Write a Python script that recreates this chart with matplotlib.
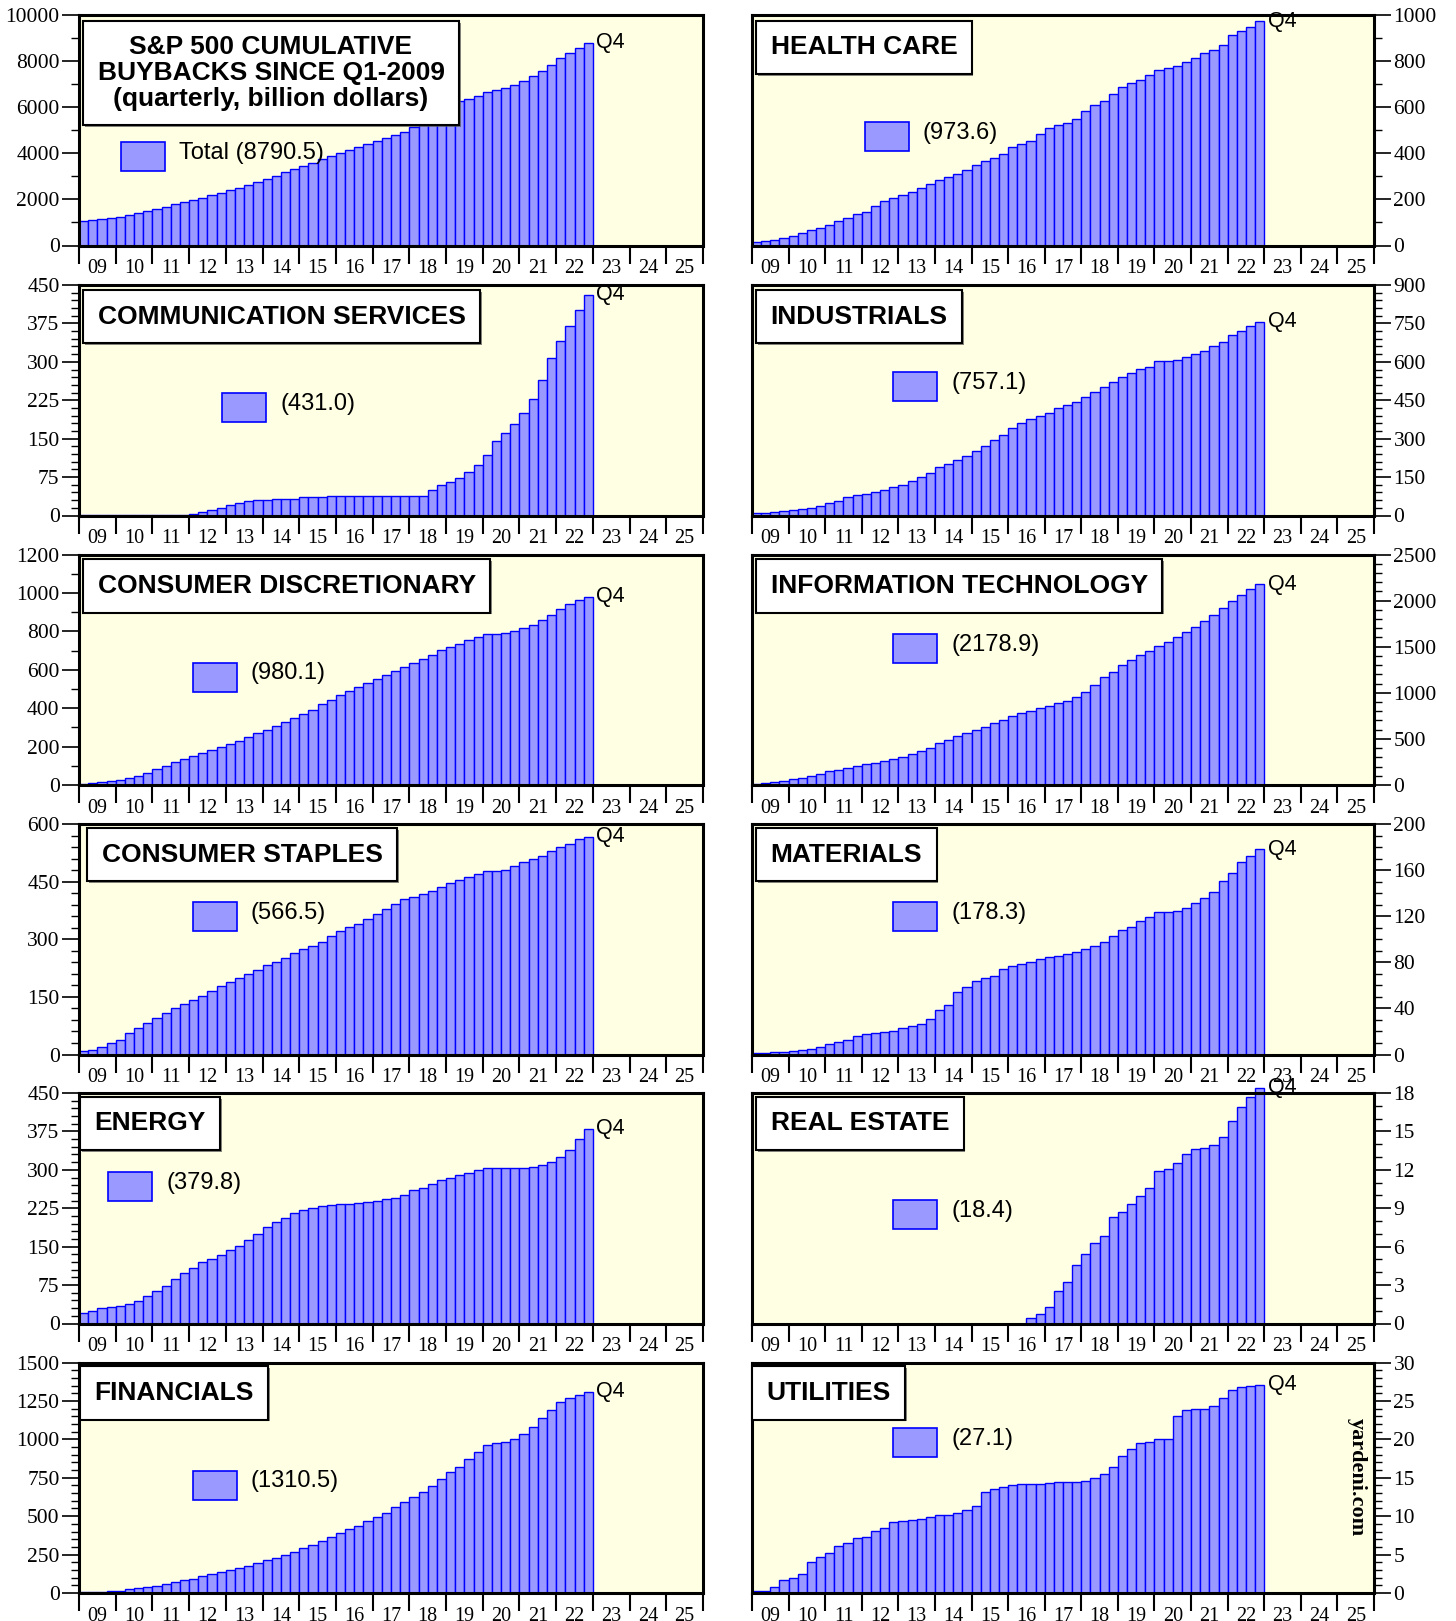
import matplotlib
matplotlib.use('Agg')
import matplotlib.pyplot as plt
import matplotlib.patheffects as pe
from matplotlib.patches import Rectangle
from matplotlib.ticker import MultipleLocator, FixedLocator, FixedFormatter, NullFormatter

# quarterly cumulative buybacks since Q1-2009, billion dollars (Q1-2009 .. Q4-2022)
years = list(range(2009, 2023))
year_labels = ['09', '10', '11', '12', '13', '14', '15', '16', '17', '18', '19', '20', '21', '22', '23', '24', '25']

total = [1080, 1100, 1140, 1180, 1230, 1310, 1400, 1480, 1570, 1680, 1790, 1880,
         1970, 2070, 2180, 2280, 2390, 2500, 2630, 2750, 2900, 3030, 3170, 3300,
         3460, 3600, 3740, 3880, 4020, 4150, 4280, 4420, 4550, 4680, 4800, 4940,
         5150, 5400, 5650, 5900, 6100, 6250, 6350, 6470, 6650, 6740, 6830, 6960,
         7150, 7350, 7580, 7850, 8130, 8370, 8580, 8790.5]
health_care = [14, 20, 26, 33, 43, 56, 68, 78, 90, 105, 120, 136,
               147, 170, 192, 204, 221, 234, 251, 267, 283, 296, 312, 327,
               348, 366, 379, 396, 428, 442, 455, 483, 511, 523, 533, 549,
               584, 610, 626, 656, 686, 704, 718, 740, 762, 772, 779, 795,
               814, 834, 850, 871, 912, 929, 949, 973.6]
comm_services = [1.5, 1.5, 1.5, 1.5, 1.5, 1.5, 1.5, 1.5, 1.5, 1.5, 1.5, 1.5,
                 3, 6, 11, 15, 21, 25, 28, 30, 31, 32, 32, 32,
                 36.5, 37, 37, 37.5, 38, 38, 38, 38, 38.5, 39, 39, 39,
                 39, 39, 50, 59, 66, 73, 84, 98, 118, 145, 162, 179,
                 200, 228, 264, 307, 341, 370, 401, 431.0]
industrials = [8, 10, 14, 17, 21, 25, 31, 39, 47, 56, 72, 81,
               85, 91, 101, 112, 121, 136, 149, 167, 188, 201, 217, 234,
               253, 272, 293, 313, 340, 362, 375, 389, 402, 418, 431, 444,
               461, 483, 500, 522, 542, 558, 572, 581, 603, 605, 609, 617,
               630, 644, 662, 679, 704, 720, 739, 757.1]
cons_discretionary = [7, 10, 16, 22, 28, 36, 49, 63, 82, 99, 120, 134,
                      151, 168, 184, 198, 215, 229, 250, 269, 286, 307, 326, 349,
                      370, 392, 420, 443, 469, 490, 512, 531, 550, 571, 595, 615,
                      635, 656, 677, 703, 720, 734, 755, 771, 786, 788, 792, 802,
                      816, 835, 858, 887, 915, 943, 963, 980.1]
info_tech = [11, 18, 29, 44, 62, 80, 102, 123, 149, 167, 189, 207,
             225, 243, 265, 283, 301, 341, 374, 406, 457, 486, 530, 559,
             599, 631, 675, 708, 747, 776, 806, 831, 860, 885, 914, 951,
             1012, 1089, 1172, 1230, 1299, 1353, 1408, 1455, 1513, 1553, 1600, 1658,
             1713, 1778, 1843, 1916, 1992, 2061, 2123, 2178.9]
cons_staples = [8, 12, 19, 29, 39, 55, 68, 82, 95, 107, 121, 131,
                143, 153, 166, 178, 188, 199, 210, 221, 233, 242, 252, 263,
                275, 283, 292, 309, 321, 332, 340, 352, 366, 378, 392, 404,
                410, 417, 426, 436, 447, 454, 462, 471, 477, 478, 481, 491,
                501, 509, 518, 530, 539, 549, 561, 566.5]
materials = [1.5, 1.7, 2.0, 2.6, 3.2, 4.1, 4.9, 6.7, 8.7, 10.5, 12.8, 15.7,
             17.4, 18.6, 19.2, 20.3, 23, 25, 26.7, 30.5, 39, 43, 53.8, 59,
             63.4, 66, 68, 74.1, 76.7, 78.2, 80.2, 82.6, 84.6, 85.5, 86.9, 89,
             91.3, 94.2, 97.4, 103, 108, 110.5, 115.7, 118.9, 123.5, 123.8, 124.4, 127,
             131.4, 135.8, 141.3, 150.6, 157.8, 166.6, 172, 178.3]
energy = [21, 25, 30, 32, 35, 38, 44, 53, 63, 74, 87, 99,
          108, 121, 126, 134, 143, 151, 163, 175, 188, 198, 206, 216,
          222, 225, 230, 232, 233, 234, 236, 237.5, 239, 243, 245, 250.5,
          260, 264, 272, 280, 285, 290, 294, 299, 303, 303, 303, 303,
          304, 306, 308.5, 316, 325, 339, 361, 379.8]
real_estate = [0, 0, 0, 0, 0, 0, 0, 0, 0, 0, 0, 0,
               0, 0, 0, 0, 0, 0, 0, 0, 0, 0, 0, 0,
               0, 0, 0, 0, 0, 0, 0.44, 0.73, 1.3, 2.5, 3.27, 4.6,
               5.45, 6.3, 6.83, 8.3, 8.74, 9.3, 9.97, 10.6, 11.9, 12.1, 12.5, 13.2,
               13.65, 13.7, 13.95, 14.6, 15.8, 16.9, 17.7, 18.4]
financials = [4, 6.5, 8.7, 11, 15, 24, 30, 37, 46, 59, 74, 82,
              91, 108, 126, 135, 148, 161, 174, 193, 213, 228, 247, 267,
              291, 310, 339, 362, 389, 415, 438, 469, 495, 523, 558, 590,
              625, 656, 697, 740, 786, 823, 870, 918, 966, 975, 985, 1001,
              1035, 1079, 1137, 1192, 1246, 1268, 1287, 1310.5]
utilities = [0.2, 0.2, 0.8, 1.7, 1.9, 2.5, 4.0, 4.7, 5.2, 6.1, 6.5, 7.1,
             7.25, 8.1, 8.4, 9.25, 9.4, 9.5, 9.65, 9.95, 10.1, 10.2, 10.4, 10.85,
             11.3, 13.15, 13.5, 13.75, 14.1, 14.15, 14.15, 14.2, 14.35, 14.4, 14.4, 14.4,
             14.55, 15.0, 15.5, 16.4, 17.85, 18.7, 19.5, 19.7, 20.0, 20.1, 23.0, 23.85,
             23.9, 23.9, 24.3, 25.35, 26.4, 26.85, 26.95, 27.1]

# (title, legend prefix, values, ymax, major, minor)
panels = [
    ('S&P 500 CUMULATIVE\nBUYBACKS SINCE Q1-2009\n(quarterly, billion dollars)', 'Total ', total, 10000, 2000, 1000),
    ('HEALTH CARE', '', health_care, 1000, 200, 100),
    ('COMMUNICATION SERVICES', '', comm_services, 450, 75, 15),
    ('INDUSTRIALS', '', industrials, 900, 150, 30),
    ('CONSUMER DISCRETIONARY', '', cons_discretionary, 1200, 200, 100),
    ('INFORMATION TECHNOLOGY', '', info_tech, 2500, 500, 100),
    ('CONSUMER STAPLES', '', cons_staples, 600, 150, 30),
    ('MATERIALS', '', materials, 200, 40, 10),
    ('ENERGY', '', energy, 450, 75, 15),
    ('REAL ESTATE', '', real_estate, 18, 3, 1),
    ('FINANCIALS', '', financials, 1500, 250, 50),
    ('UTILITIES', '', utilities, 30, 5, 1),
]

# layout in pixels: title box offset (dx, dy) and legend swatch offset from the panel's top-left
box_offsets = [(4, 6), (4, 6), (4, 5), (4, 5), (4, 5), (4, 5), (8, 4), (4, 4), (1, 4), (4, 4), (1, 4), (0, 4)]
legend_offsets = [(42, 127), (113, 107), (143, 108), (141, 87), (114, 108), (141, 79),
                  (114, 78), (141, 78), (29, 79), (141, 107), (114, 108), (141, 65)]

W, H = 1456, 1621
COL_LEFT = [79, 752]
COL_WIDTH = [624, 622]
ROW_TOP = [15, 285, 554.5, 824, 1093, 1362.5]
PANEL_H = 230.5

BG = '#FFFFE3'
FACE = '#9999FF'
EDGE = '#0000FF'
SANS = 'Liberation Sans'
SERIF = 'Liberation Serif'

plt.rcParams['font.family'] = SERIF


def pt(px):
    return px * 0.72


def draw_panel(ax, idx, title, prefix, values, ymax, major, minor, side):
    w = COL_WIDTH[0 if side == 'left' else 1]
    ax.set_facecolor(BG)
    xs = [y + q * 0.25 for y in years for q in range(4)]
    ax.bar(xs, values, width=0.25, align='edge', color=FACE, edgecolor=EDGE,
           linewidth=1.0, clip_on=False, zorder=2)
    ax.set_xlim(2009, 2026)
    ax.set_ylim(0, ymax)

    ax.xaxis.set_major_locator(FixedLocator(range(2009, 2027)))
    ax.xaxis.set_major_formatter(NullFormatter())
    ax.xaxis.set_minor_locator(FixedLocator([y + 0.5 for y in range(2009, 2026)]))
    ax.xaxis.set_minor_formatter(FixedFormatter(year_labels))
    ax.tick_params(axis='x', which='major', direction='out', length=13, width=1.5)
    ax.tick_params(axis='x', which='minor', length=0, pad=10, labelsize=14.5,
                   labelfontfamily=SERIF)

    ax.yaxis.set_major_locator(MultipleLocator(major))
    ax.yaxis.set_minor_locator(MultipleLocator(minor))
    if side == 'right':
        ax.yaxis.tick_right()
    ax.tick_params(axis='y', which='major', direction='out', length=12, width=1.2,
                   labelsize=15.5, pad=2, labelfontfamily=SERIF)
    ax.tick_params(axis='y', which='minor', direction='out', length=5.5, width=1.0)
    for s in ax.spines.values():
        s.set_linewidth(2.2)
        s.set_zorder(6)

    # title box
    dx, dy = box_offsets[idx]
    pad_px = 14.5
    t = ax.annotate(title, xy=(0, 1), xycoords='axes fraction',
                    xytext=(pt(dx + pad_px), -pt(dy + pad_px)), textcoords='offset points',
                    ha='left', va='top', fontsize=19, fontweight='bold', family=SANS,
                    linespacing=1.09, multialignment='center', zorder=7,
                    bbox=dict(boxstyle='square,pad=0.55', fc='white', ec='black', lw=1.5))
    t.get_bbox_patch().set_path_effects([
        pe.SimplePatchShadow(offset=(1.2, -1.2), shadow_rgbFace='#555555', alpha=0.7),
        pe.Normal()])

    # legend swatch + label
    lx, ly = legend_offsets[idx]
    ax.add_patch(Rectangle((lx / w, 1 - (ly + 29) / PANEL_H), 44 / w, 29 / PANEL_H,
                           transform=ax.transAxes, fc=FACE, ec=EDGE, lw=1.2,
                           clip_on=False, zorder=7))
    ax.text((lx + 58) / w, 1 - (ly + 11) / PANEL_H, f'{prefix}({values[-1]:.1f})',
            transform=ax.transAxes, ha='left', va='center', fontsize=17,
            family=SANS, zorder=7)

    # last quarter marker
    ax.annotate('Q4', xy=(2023, values[-1]), xytext=(2.5, 0), textcoords='offset points',
                ha='left', va='center', fontsize=15.5, family=SANS,
                annotation_clip=False, zorder=7)


def main():
    fig = plt.figure(figsize=(W / 100, H / 100), dpi=100)
    for idx, (title, prefix, values, ymax, major, minor) in enumerate(panels):
        row, col = divmod(idx, 2)
        side = 'left' if col == 0 else 'right'
        rect = [COL_LEFT[col] / W, 1 - (ROW_TOP[row] + PANEL_H) / H,
                COL_WIDTH[col] / W, PANEL_H / H]
        ax = fig.add_axes(rect)
        draw_panel(ax, idx, title, prefix, values, ymax, major, minor, side)

    fig.text(1357 / W, 1 - 1477 / H, 'yardeni.com', rotation=-90, ha='center', va='center',
             fontsize=16, fontweight='bold', family=SERIF)

    fig.savefig('out.png', dpi=100)
    plt.close(fig)


if __name__ == '__main__':
    main()
